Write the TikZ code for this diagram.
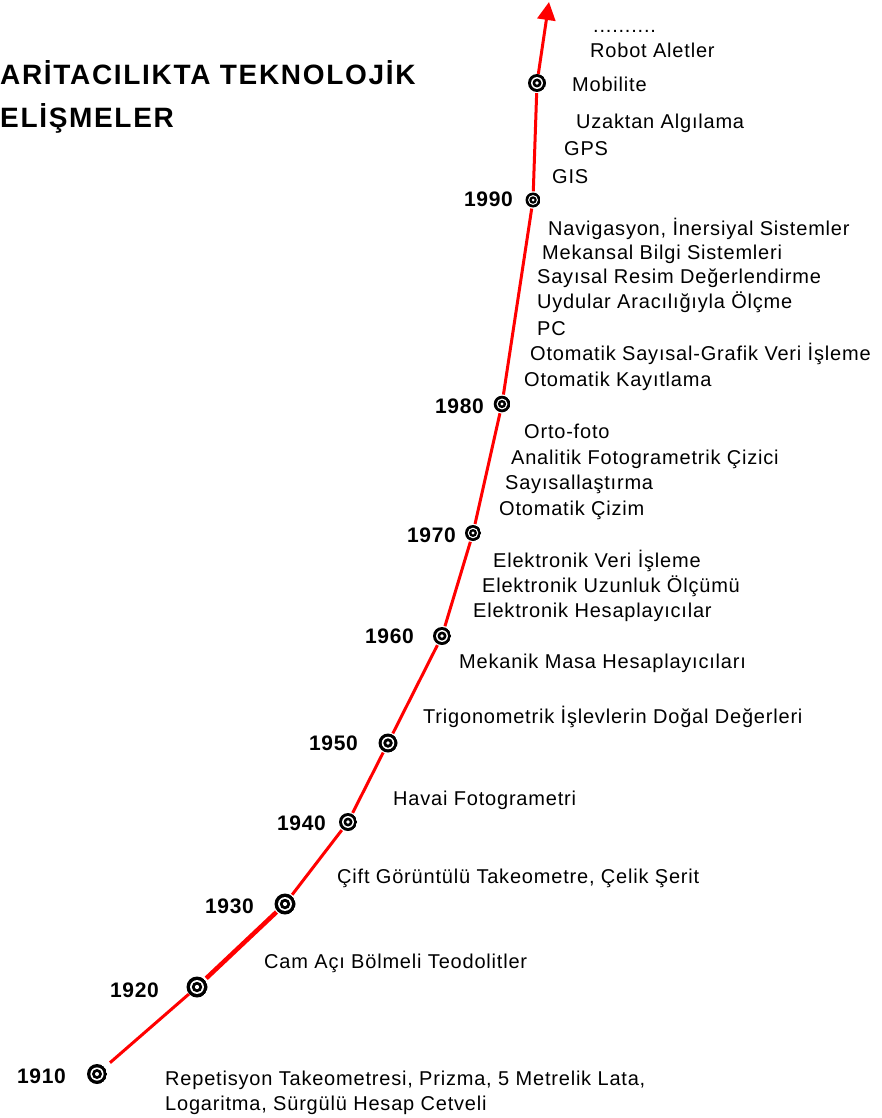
\documentclass[tikz,border=0pt]{standalone}
\usepackage{fontspec}
\setmainfont{Liberation Sans}
\newfontfamily\evtfont[LetterSpace=4]{Liberation Sans}
\newfontfamily\yearfont[LetterSpace=3]{Liberation Sans}
\newfontfamily\titlefont[LetterSpace=6]{Liberation Sans}
\usepackage{tikz}
\usetikzlibrary{arrows.meta}
\tikzset{
  % text styles
  event/.style={anchor=base west, inner sep=0pt, font=\evtfont\fontsize{20}{24}\selectfont},
  yearlbl/.style={anchor=base west, inner sep=0pt, font=\yearfont\bfseries\fontsize{21}{25}\selectfont},
  titlelbl/.style={anchor=base west, inner sep=0pt, font=\titlefont\bfseries\fontsize{28}{32}\selectfont},
  % timeline styles
  marker/.style={circle, inner sep=0pt, minimum size=2*#1, path picture={
      \fill[black] (path picture bounding box.center) circle (#1);
      \fill[white] (path picture bounding box.center) circle (0.66*#1);
      \fill[black] (path picture bounding box.center) circle (0.5*#1);
      \fill[white] (path picture bounding box.center) circle (0.2*#1);}},
  redline/.style={red, line width=3pt},
}
\begin{document}
\begin{tikzpicture}[x=1pt, y=-1pt]
    \useasboundingbox (0,0) rectangle (882,1118);

    % Title
    \node[titlelbl] (title1) at (0,85) {ARİTACILIKTA TEKNOLOJİK};
    \node[titlelbl] (title2) at (0,128) {ELİŞMELER};

    % Year markers and labels
    \foreach \yr/\mx/\my/\r/\lx/\ly in {1910/97/1074/10pt/17/1083, 1920/197/987/10.5pt/110/997,
        1930/285/904/10.5pt/205/913, 1940/348/822/9pt/277/830, 1950/388/743/9.5pt/309/750,
        1960/442/636/9pt/365/643, 1970/473/533/8pt/407/542, 1980/502/404/8.3pt/435/413,
        1990/533/200/7.5pt/464/207} {
      \node[marker=\r] (m\yr) at (\mx,\my) {};
      \node[yearlbl] (y\yr) at (\lx,\ly) {\yr};
    }
    \node[marker=9pt] (mmob) at (537,83) {};
    \coordinate (tip) at (549,2);

    % Red time line
    \draw[redline, shorten <=7pt, shorten >=0pt] (m1910) -- (m1920);
    \draw[redline, line width=4.5pt, shorten <=2pt, shorten >=1pt] (m1920) -- (m1930);
    \foreach \a/\b in {1930/1940, 1940/1950, 1950/1960, 1960/1970, 1970/1980, 1980/1990, 1990/mob} {
      \draw[redline, shorten <=1pt, shorten >=1pt] (m\a) -- (m\b);
    }
    \draw[redline, -{Triangle[length=18pt, width=18pt]}] (mmob) -- (tip);

    % Developments
    \node[event] (e1) at (593,33) {..........};
    \node[event] (e2) at (590,58) {Robot Aletler};
    \node[event] (e3) at (572,92) {Mobilite};
    \node[event] (e4) at (576,129) {Uzaktan Algılama};
    \node[event] (e5) at (564,156) {GPS};
    \node[event] (e6) at (552,183) {GIS};
    \node[event] (e7) at (548,235) {Navigasyon, İnersiyal Sistemler};
    \node[event] (e8) at (542,259) {Mekansal Bilgi Sistemleri};
    \node[event] (e9) at (537,283) {Sayısal Resim Değerlendirme};
    \node[event] (e10) at (537,308) {Uydular Aracılığıyla Ölçme};
    \node[event] (e11) at (537,335) {PC};
    \node[event] (e12) at (530,360) {Otomatik Sayısal-Grafik Veri İşleme};
    \node[event] (e13) at (524,386) {Otomatik Kayıtlama};
    \node[event] (e14) at (524,438) {Orto-foto};
    \node[event] (e15) at (511,464) {Analitik Fotogrametrik Çizici};
    \node[event] (e16) at (505,489) {Sayısallaştırma};
    \node[event] (e17) at (499,515) {Otomatik Çizim};
    \node[event] (e18) at (493,567) {Elektronik Veri İşleme};
    \node[event] (e19) at (482,592) {Elektronik Uzunluk Ölçümü};
    \node[event] (e20) at (473,617) {Elektronik Hesaplayıcılar};
    \node[event] (e21) at (459,668) {Mekanik Masa Hesaplayıcıları};
    \node[event] (e22) at (423,723) {Trigonometrik İşlevlerin Doğal Değerleri};
    \node[event] (e23) at (393,805) {Havai Fotogrametri};
    \node[event] (e24) at (337,883) {Çift Görüntülü Takeometre, Çelik Şerit};
    \node[event] (e25) at (264,968) {Cam Açı Bölmeli Teodolitler};
    \node[event] (e26) at (165,1085) {Repetisyon Takeometresi, Prizma, 5 Metrelik Lata,};
    \node[event] (e27) at (165,1110) {Logaritma, Sürgülü Hesap Cetveli};
\end{tikzpicture}
\end{document}
